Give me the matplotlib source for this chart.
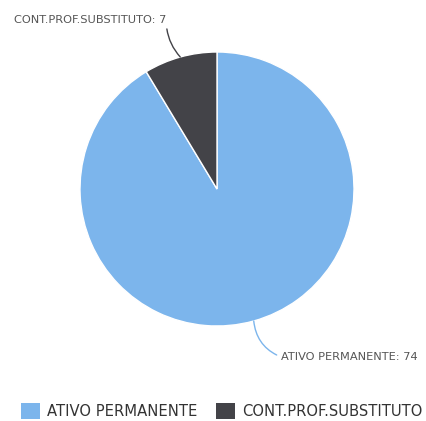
import numpy as np
import matplotlib.pyplot as plt
from matplotlib.patches import Patch

labels = ['ATIVO PERMANENTE', 'CONT.PROF.SUBSTITUTO']
values = [74, 7]
colors = ['#7cb5ec', '#434348']

plt.rcParams['font.family'] = ['DejaVu Sans']

fig = plt.figure(figsize=(4.26, 4.21), dpi=100)
cx, cy, r = 217, 189, 137
W, H = 426, 421
ax = fig.add_axes([(cx - r) / W, (H - cy - r) / H, 2 * r / W, 2 * r / H])

wedges, _ = ax.pie(values, colors=colors, startangle=90, counterclock=False,
                   radius=1, wedgeprops=dict(edgecolor='white', linewidth=1))
ax.set_xlim(-1, 1)
ax.set_ylim(-1, 1)
ax.set_aspect('equal')

# data labels with curved connectors
text_pos = [(0.465, -1.225), (-0.37, 1.235)]
ha = ['left', 'right']
relpos = [(0, 0.5), (1, 0.6)]
rads = [-0.3, 0.2]
for w, v, lab, tp, h, rp, rad, c in zip(wedges, values, labels, text_pos, ha, relpos, rads, colors):
    mid = np.deg2rad((w.theta1 + w.theta2) / 2)
    edge = (np.cos(mid), np.sin(mid))
    ax.annotate(f'{lab}: {v}', xy=edge, xytext=tp, ha=h, va='center',
                fontsize=8.2, color='#555555', annotation_clip=False,
                arrowprops=dict(arrowstyle='-', color=c, lw=1, relpos=rp,
                                shrinkA=1, shrinkB=0,
                                connectionstyle=f'arc3,rad={rad}'))

handles = [Patch(facecolor=c, edgecolor='none') for c in colors]
fig.legend(handles, labels, loc='center', bbox_to_anchor=(0.52, 1 - 411 / H),
           ncol=2, frameon=False, fontsize=10.6, handlelength=1.3, handleheight=1.3,
           handletextpad=0.45, columnspacing=1.3, labelcolor='#333333')

fig.savefig('out.png', dpi=100)
